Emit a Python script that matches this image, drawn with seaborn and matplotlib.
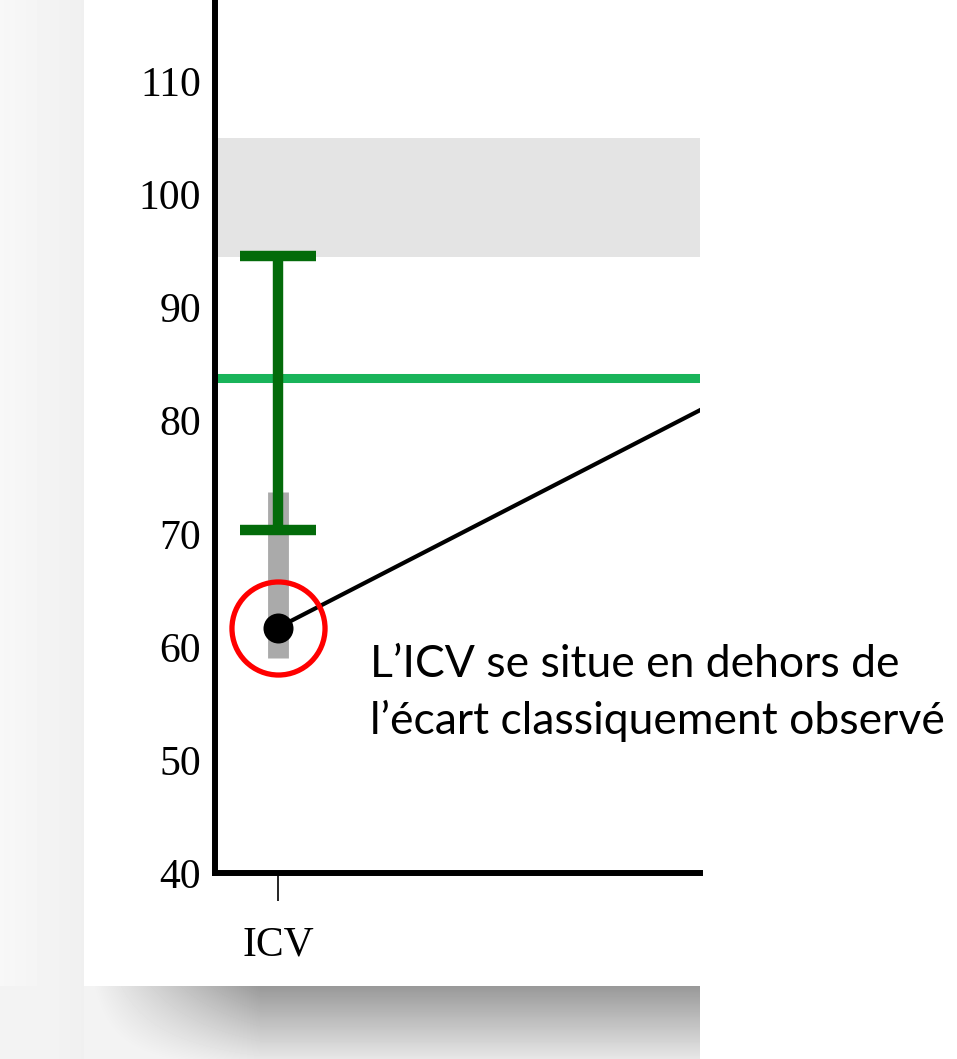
import numpy as np
import pandas as pd
import seaborn as sns
import matplotlib.pyplot as plt

# valeurs
categories = ['ICV', 'IRP']
scores = [61.7, 82.2]
ic_bas = [59.0]
ic_haut = [73.7]
err_bas = [70.3]
err_haut = [94.6]
moyenne_ref = 83.8
zone_bas, zone_haut = 94.5, 105.0
yticks = [40, 50, 60, 70, 80, 90, 100, 110]

sns.set_style('white')
plt.rcParams['font.family'] = ['Liberation Serif', 'DejaVu Serif']
plt.rcParams['text.color'] = 'black'
plt.rcParams['xtick.color'] = 'black'
plt.rcParams['ytick.color'] = 'black'

W, H = 957, 1059
fig = plt.figure(figsize=(W / 100, H / 100), dpi=100)

# fond : carte blanche avec ombre portée
yy, xx = np.mgrid[0:H, 0:W]
bg = np.ones((H, W))
left = xx < 84
bg[left] = 0.97 - 0.03 * (xx[left] / 84)
bottom = (yy >= 986) & (xx < 700)
ramp = np.clip((xx - 70) / 190, 0, 1)
shade = 0.40 * (1 - (yy - 986) / 95) * ramp
bg[bottom] = np.minimum(bg[bottom], 1 - np.clip(shade[bottom], 0.05, 1))
bg_ax = fig.add_axes([0, 0, 1, 1], zorder=-1)
bg_ax.imshow(bg, cmap='gray', vmin=0, vmax=1, aspect='auto', interpolation='bilinear')
bg_ax.axis('off')

ax = fig.add_axes([215 / W, (H - 873) / H, (700 - 215) / W, 873 / H])
ax.set_facecolor('white')

df = pd.DataFrame({'x': range(len(categories)), 'score': scores})

ax.axhspan(zone_bas, zone_haut, color='#e4e4e4', lw=0, zorder=0)
ax.axhline(moyenne_ref, color='#19b45a', lw=6.5, zorder=2)
ax.vlines(0, ic_bas[0], ic_haut[0], color='#aaaaaa', lw=15, zorder=1)
mid = (err_bas[0] + err_haut[0]) / 2
ax.errorbar(0, mid, yerr=(err_haut[0] - err_bas[0]) / 2, fmt='none',
            ecolor='#036b0a', elinewidth=7.5, capsize=27.5, capthick=7.5, zorder=3)
sns.lineplot(data=df, x='x', y='score', color='black', lw=3, ax=ax, zorder=4)
sns.scatterplot(data=df.iloc[:1], x='x', y='score', color='black', s=400,
                edgecolor='black', ax=ax, zorder=5)
ax.plot([0], [scores[0]], marker='o', ms=67, mfc='none', mec='#ff0000', mew=3.8, zorder=6)

ax.set_xticks(range(len(categories)))
ax.set_xticklabels(categories)
ax.set_yticks(yticks)
ax.set_xlim(-0.14, 0.938)
ax.set_ylim(40, 117.2)
ax.set_xlabel('')
ax.set_ylabel('')
ax.tick_params(axis='y', left=False, length=0, pad=10, labelsize=30)
ax.tick_params(axis='x', bottom=True, length=20, width=1.2, color='black', pad=18, labelsize=30)
for s in ['top', 'right']:
    ax.spines[s].set_visible(False)
for s in ['left', 'bottom']:
    ax.spines[s].set_linewidth(4.3)
    ax.spines[s].set_color('black')

fig.text(370 / W, 1 - 693 / H, 'L’ICV se situe en dehors de\nl’écart classiquement observé',
         family=['Lato', 'DejaVu Sans'], fontsize=32, ha='left', va='center',
         linespacing=1.45, color='black')

fig.savefig('out.png', dpi=100)
